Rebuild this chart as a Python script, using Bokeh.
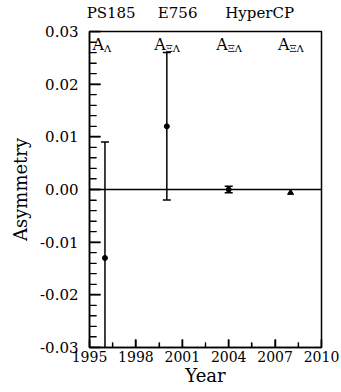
import math
from bokeh.plotting import figure
from bokeh.models import FixedTicker, PrintfTickFormatter, Range1d, LinearAxis
from bokeh.core.properties import value
from bokeh.embed import file_html
from bokeh.resources import INLINE

# data
years = [1996.0, 2000.0, 2004.0]
asym = [-0.013, 0.012, 0.0]
err = [0.022, 0.014, 0.0006]
proj_year = [2008.0]
proj_asym = [-0.0006]

experiments = ["PS185", "E756", "HyperCP"]
exp_x = [1996.4, 2000.7, 2006.0]
obs_x = [1996.0, 2000.0, 2004.0, 2008.0]
obs_sub = ["Λ", "ΞΛ", "ΞΛ", "ΞΛ"]

x_ticks = [1995.0, 1998.0, 2001.0, 2004.0, 2007.0, 2010.0]
y_ticks = [-0.03, -0.02, -0.01, 0.0, 0.01, 0.02, 0.03]

FONT = "DejaVu Serif"
X0, X1, Y0, Y1 = 1995.0, 2010.0, -0.03, 0.03

p = figure(width=341, height=392, output_backend="svg",
           toolbar_location=None,
           x_range=Range1d(X0, X1), y_range=Range1d(Y0, Y1),
           min_border_left=89, min_border_right=20, min_border_top=31,
           min_border_bottom=45)
p.xgrid.grid_line_color = None
p.ygrid.grid_line_color = None
p.outline_line_color = "black"
p.outline_line_width = 1.5

for ax in (p.xaxis[0], p.yaxis[0]):
    ax.axis_line_width = 1.5
    ax.major_tick_out = 0
    ax.minor_tick_out = 0
    ax.major_tick_line_color = "black"
    ax.minor_tick_line_color = "black"
    ax.major_tick_line_width = 1.5
    ax.minor_tick_line_width = 1.2
    ax.major_label_text_font = FONT
    ax.axis_label_text_font = FONT
    ax.axis_label_text_font_style = "normal"
    ax.major_label_text_color = "black"
    ax.axis_label_text_color = "black"

minor_x = [x + 1.5 for x in x_ticks[:-1]]
p.xaxis.ticker = FixedTicker(ticks=x_ticks, minor_ticks=minor_x)
p.xaxis.major_tick_in = 8
p.xaxis.minor_tick_in = 5
p.xaxis.major_label_text_font_size = "14px"
p.xaxis.major_label_standoff = 3
p.xaxis.axis_label = "Year"
p.xaxis.axis_label_text_font_size = "18px"
p.xaxis.axis_label_standoff = 0

minor_y = [round(Y0 + 0.002 * i, 3) for i in range(31) if i % 5]
p.yaxis.ticker = FixedTicker(ticks=y_ticks, minor_ticks=minor_y)
p.yaxis.formatter = PrintfTickFormatter(format="%.2f")
p.yaxis.major_tick_in = 11
p.yaxis.minor_tick_in = 7
p.yaxis.major_label_text_font_size = "15px"
p.yaxis.major_label_standoff = 11
p.yaxis.axis_label = "Asymmetry"
p.yaxis.axis_label_text_font_size = "18px"
p.yaxis.axis_label_standoff = 6

# inward ticks also drawn as glyphs (same positions as the axis ticks)
p.ray(x=[X0] * len(y_ticks), y=y_ticks, length=11, length_units="screen",
      angle=0, line_color="black", line_width=1.5)
p.ray(x=[X0] * len(minor_y), y=minor_y, length=7, length_units="screen",
      angle=0, line_color="black", line_width=1.2)
p.ray(x=x_ticks, y=[Y0] * len(x_ticks), length=8, length_units="screen",
      angle=math.pi / 2, line_color="black", line_width=1.5)
p.ray(x=minor_x, y=[Y0] * len(minor_x), length=5, length_units="screen",
      angle=math.pi / 2, line_color="black", line_width=1.2)

# top axis carrying experiment names
top = LinearAxis(ticker=FixedTicker(ticks=exp_x),
                 major_label_overrides={x: n for x, n in zip(exp_x, experiments)},
                 axis_line_color=None, major_tick_line_color=None,
                 minor_tick_line_color=None, major_label_standoff=4,
                 major_label_text_font=FONT, major_label_text_font_size="15px",
                 major_label_text_color="black")
p.add_layout(top, "above")

# zero line
p.hspan(y=[0.0], line_color="black", line_width=1.3)

# error bars: vertical segments plus dash caps
upper = [a + e for a, e in zip(asym, err)]
lower = [a - e for a, e in zip(asym, err)]
p.segment(x0=years, y0=lower, x1=years, y1=upper,
          line_color="black", line_width=1.5)
p.scatter(x=years, y=upper, marker="dash", size=8,
          line_color="black", line_width=1.5)
p.scatter(x=years, y=lower, marker="dash", size=8,
          line_color="black", line_width=1.5)
p.scatter(x=years, y=asym, size=5, color="black")
p.scatter(x=proj_year, y=proj_asym, marker="triangle", size=6, color="black")

# A labels with subscripts
p.text(x=obs_x, y=[Y1] * len(obs_x), text=["A"] * len(obs_x),
       text_font=value(FONT), text_font_size="16px", text_color="black",
       text_align="right", text_baseline="top", x_offset=-1, y_offset=3)
p.text(x=obs_x, y=[Y1] * len(obs_x), text=obs_sub,
       text_font=value(FONT), text_font_size="10px", text_color="black",
       text_align="left", text_baseline="top", x_offset=-1, y_offset=11)

open("out.html", "w").write(file_html(p, INLINE))
